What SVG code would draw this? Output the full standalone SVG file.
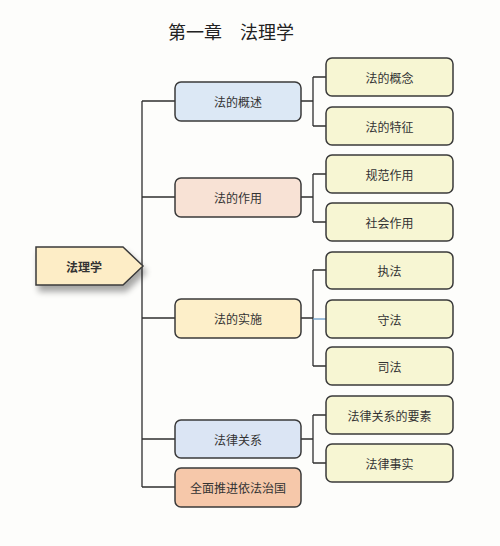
<svg xmlns="http://www.w3.org/2000/svg" width="500" height="546" viewBox="0 0 500 546">
<defs>
<filter id="sh" x="-20%" y="-20%" width="150%" height="180%">
<feGaussianBlur in="SourceAlpha" stdDeviation="3"/>
<feOffset dx="3" dy="6" result="b"/>
<feComponentTransfer><feFuncA type="linear" slope="0.35"/></feComponentTransfer>
<feMerge><feMergeNode/><feMergeNode in="SourceGraphic"/></feMerge>
</filter>
</defs>
<style>
.t{font-family:"Noto Sans CJK SC","Liberation Serif",serif;fill:#333;font-size:12px;text-anchor:middle;dominant-baseline:central}
.b{stroke:#3a3a3a;stroke-width:1.5}
.l2{fill:#f7f6d3}
.c{fill:none;stroke:#2f2f2f;stroke-width:1.3}
</style>
<rect width="500" height="546" fill="#fdfdfb"/>
<text x="168" y="39" font-family="Noto Sans CJK SC, sans-serif" font-size="18" fill="#222">第一章　法理学</text>
<g id="connectors" class="c">
<path d="M142 101V487M142 101H175M142 197H175M142 318H175M142 439H175M142 487H175"/>
<path d="M301 101H313M313 77V126M313 77H326M313 126H326"/>
<path d="M301 197H313M313 174V222M313 174H326M313 222H326"/>
<path d="M301 318H313M313 270V366M313 270H326M313 366H326"/>
<path d="M313 319H326" stroke="#6a9cc8"/>
<path d="M301 439H313M313 415V463M313 415H326M313 463H326"/>
</g>
<g id="root">
<path d="M36 247H123L143 266L123 285H36Z" fill="#fdedc6" class="b" filter="url(#sh)"/>
<text x="84" y="266" class="t" font-weight="bold" font-size="14" fill="#222">法理学</text>
</g>
<g id="n1"><rect x="175" y="82" width="126" height="39" rx="6" fill="#dce8f5" class="b"/><text x="238" y="101.5" class="t">法的概述</text></g>
<g id="n2"><rect x="175" y="178" width="126" height="39" rx="6" fill="#f8e2d5" class="b"/><text x="238" y="197.5" class="t">法的作用</text></g>
<g id="n3"><rect x="175" y="299" width="126" height="39" rx="6" fill="#fdefc9" class="b"/><text x="238" y="318.5" class="t">法的实施</text></g>
<g id="n4"><rect x="175" y="420" width="126" height="38" rx="6" fill="#dbe5f4" class="b"/><text x="238" y="439" class="t">法律关系</text></g>
<g id="n5"><rect x="175" y="468" width="126" height="39" rx="6" fill="#f6c8aa" class="b"/><text x="238" y="487.5" class="t">全面推进依法治国</text></g>
<g id="m1"><rect x="326" y="58" width="127" height="38" rx="6" class="l2 b"/><text x="389.5" y="77" class="t">法的概念</text></g>
<g id="m2"><rect x="326" y="107" width="127" height="38" rx="6" class="l2 b"/><text x="389.5" y="126" class="t">法的特征</text></g>
<g id="m3"><rect x="326" y="155" width="127" height="38" rx="6" class="l2 b"/><text x="389.5" y="174" class="t">规范作用</text></g>
<g id="m4"><rect x="326" y="203" width="127" height="38" rx="6" class="l2 b"/><text x="389.5" y="222" class="t">社会作用</text></g>
<g id="m5"><rect x="326" y="252" width="127" height="37" rx="6" class="l2 b"/><text x="389.5" y="270.5" class="t">执法</text></g>
<g id="m6"><rect x="326" y="300" width="127" height="38" rx="6" class="l2 b"/><text x="389.5" y="319" class="t">守法</text></g>
<g id="m7"><rect x="326" y="347" width="127" height="38" rx="6" class="l2 b"/><text x="389.5" y="366" class="t">司法</text></g>
<g id="m8"><rect x="326" y="396" width="127" height="38" rx="6" class="l2 b"/><text x="389.5" y="415" class="t">法律关系的要素</text></g>
<g id="m9"><rect x="326" y="444" width="127" height="38" rx="6" class="l2 b"/><text x="389.5" y="463" class="t">法律事实</text></g>
</svg>
